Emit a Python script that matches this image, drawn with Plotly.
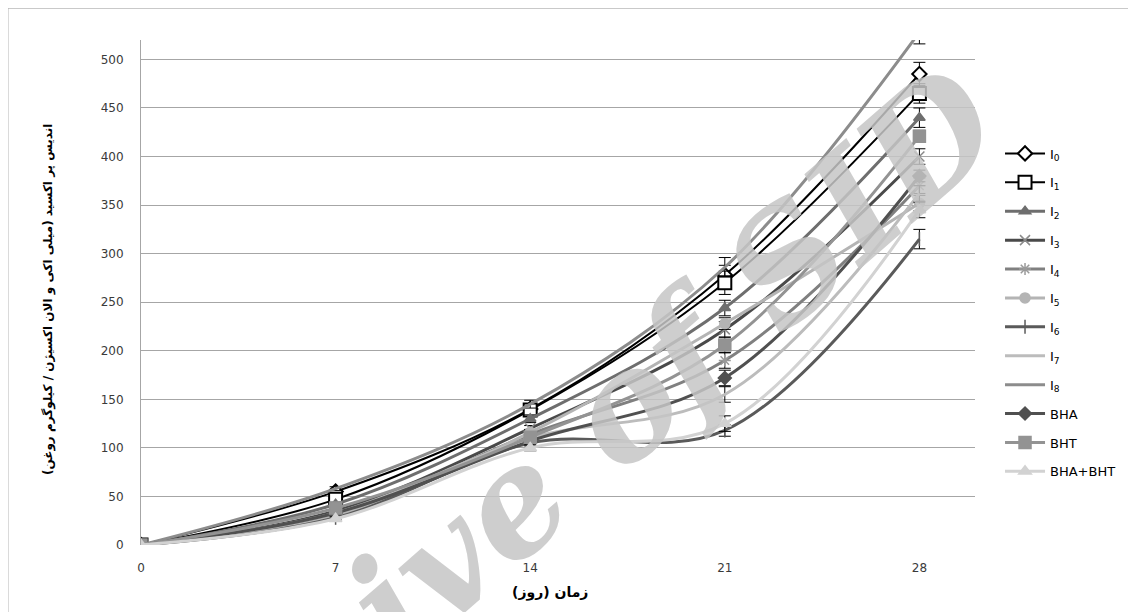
import plotly.graph_objects as go

days = [0, 7, 14, 21, 28]

names = ["I<sub>0</sub>", "I<sub>1</sub>", "I<sub>2</sub>", "I<sub>3</sub>", "I<sub>4</sub>",
         "I<sub>5</sub>", "I<sub>6</sub>", "I<sub>7</sub>", "I<sub>8</sub>", "BHA", "BHT", "BHA+BHT"]

I0 = [0, 55, 140, 278, 485]
I1 = [0, 47, 139, 270, 465]
I2 = [0, 42, 130, 244, 440]
I3 = [0, 35, 120, 222, 400]
I4 = [0, 32, 114, 190, 370]
I5 = [0, 30, 116, 228, 352]
I6 = [0, 28, 105, 118, 315]
I7 = [0, 33, 110, 155, 362]
I8 = [0, 58, 145, 286, 528]
BHA = [0, 33, 107, 172, 380]
BHT = [0, 38, 111, 206, 421]
BHA_BHT = [0, 27, 100, 125, 345]

err_I0 = [0, 2, 4, 10, 12]
err_I1 = [0, 2, 4, 12, 10]
err_I2 = [0, 2, 4, 8, 10]
err_I3 = [0, 2, 3, 8, 8]
err_I4 = [0, 2, 3, 8, 8]
err_I5 = [0, 2, 3, 6, 8]
err_I6 = [0, 2, 3, 6, 10]
err_I7 = [0, 2, 3, 8, 8]
err_I8 = [0, 2, 4, 10, 12]
err_BHA = [0, 2, 3, 8, 6]
err_BHT = [0, 2, 3, 8, 6]
err_BHA_BHT = [0, 2, 3, 8, 8]

values = [I0, I1, I2, I3, I4, I5, I6, I7, I8, BHA, BHT, BHA_BHT]
errors = [err_I0, err_I1, err_I2, err_I3, err_I4, err_I5, err_I6, err_I7, err_I8,
          err_BHA, err_BHT, err_BHA_BHT]

styles = [
    dict(color="#000000", width=2, symbol="diamond", size=11, mcolor="white", mline="#000000"),
    dict(color="#000000", width=2, symbol="square", size=13, mcolor="white", mline="#000000"),
    dict(color="#6e6e6e", width=3, symbol="triangle-up", size=10, mcolor="#6e6e6e", mline="#6e6e6e"),
    dict(color="#4a4a4a", width=3, symbol="x-thin", size=10, mcolor="#4a4a4a", mline="#8a8a8a"),
    dict(color="#808080", width=3, symbol="asterisk", size=10, mcolor="#808080", mline="#9a9a9a"),
    dict(color="#b4b4b4", width=3, symbol="circle", size=10, mcolor="#b4b4b4", mline="#b4b4b4"),
    dict(color="#5a5a5a", width=3, symbol="line-ns", size=10, mcolor="#5a5a5a", mline="#5a5a5a"),
    dict(color="#bcbcbc", width=3, symbol=None, size=0, mcolor="#bcbcbc", mline="#bcbcbc"),
    dict(color="#8c8c8c", width=3, symbol=None, size=0, mcolor="#8c8c8c", mline="#8c8c8c"),
    dict(color="#505050", width=3, symbol="diamond", size=10, mcolor="#505050", mline="#505050"),
    dict(color="#939393", width=3, symbol="square", size=12, mcolor="#939393", mline="#939393"),
    dict(color="#d2d2d2", width=3, symbol="triangle-up", size=11, mcolor="#d2d2d2", mline="#d2d2d2"),
]

fig = go.Figure()
for i, (name, vals, errs, st) in enumerate(zip(names, values, errors, styles)):
    if st["symbol"] is None:
        mode = "lines"
        marker = None
    else:
        mode = "lines+markers"
        hollow = st["mcolor"] == "white"
        marker = dict(symbol=st["symbol"], size=st["size"], color=st["mcolor"],
                      line=dict(color=st["mline"], width=2 if hollow else 1.5))
    fig.add_trace(go.Scatter(
        x=days, y=vals, name=name, mode=mode, legendgroup="g%d" % i,
        line=dict(color=st["color"], width=st["width"], shape="spline", smoothing=1.0),
        marker=marker,
        error_y=dict(type="data", array=errs, visible=True, color="#000000", thickness=1, width=6),
    ))

fig.update_layout(
    width=1136, height=612,
    paper_bgcolor="white", plot_bgcolor="white",
    margin=dict(l=133, r=169, t=32, b=75, autoexpand=False),
    font=dict(family="DejaVu Sans", size=12, color="#3a3a3a"),
    showlegend=True,
    legend=dict(x=1.03, y=0.805, xanchor="left", yanchor="top",
                font=dict(family="DejaVu Sans", size=13, color="#000000"),
                tracegroupgap=9, itemwidth=40, bgcolor="rgba(0,0,0,0)"),
    xaxis=dict(range=[0, 30], tickvals=days, ticktext=[str(d) for d in days],
               showgrid=False, zeroline=False, showline=False, ticks="",
               automargin=False, ticklabelstandoff=14,
               tickfont=dict(size=12, color="#3a3a3a")),
    yaxis=dict(range=[0, 520], tickvals=list(range(0, 501, 50)),
               showgrid=True, gridcolor="#a6a6a6", gridwidth=1,
               zeroline=False, showline=True, linecolor="#a6a6a6", linewidth=1,
               automargin=False, ticklabelstandoff=14,
               ticks="", tickfont=dict(size=12, color="#3a3a3a")),
)

# axis titles
fig.add_annotation(text="<b>اندیس پر اکسید (میلی اکی و الان اکسیژن / کیلوگرم روغن)</b>",
                   xref="paper", yref="paper", x=-0.1115, y=0.485, showarrow=False,
                   textangle=-90, xanchor="center", yanchor="middle",
                   font=dict(family="DejaVu Sans", size=12, color="#000000"))
fig.add_annotation(text="<b>زمان (روز)</b>",
                   xref="paper", yref="paper", x=0.49, y=-0.095, showarrow=False,
                   xanchor="center", yanchor="middle",
                   font=dict(family="DejaVu Sans", size=14, color="#000000"))

# outer chart frame
fig.add_shape(type="rect", xref="paper", yref="paper",
              x0=-0.1595, x1=1.2, y0=-0.16, y1=1.063,
              line=dict(color="#b0b0b0", width=1), layer="below")

# watermark
fig.add_annotation(text="<i><b>Archive of SID</b></i>", xref="paper", yref="paper",
                   x=0.455, y=0.10, showarrow=False, textangle=-41,
                   xanchor="center", yanchor="middle",
                   font=dict(family="DejaVu Serif", size=148, color="#c6c6c6"),
                   opacity=0.85)

fig.write_html("out.html")
